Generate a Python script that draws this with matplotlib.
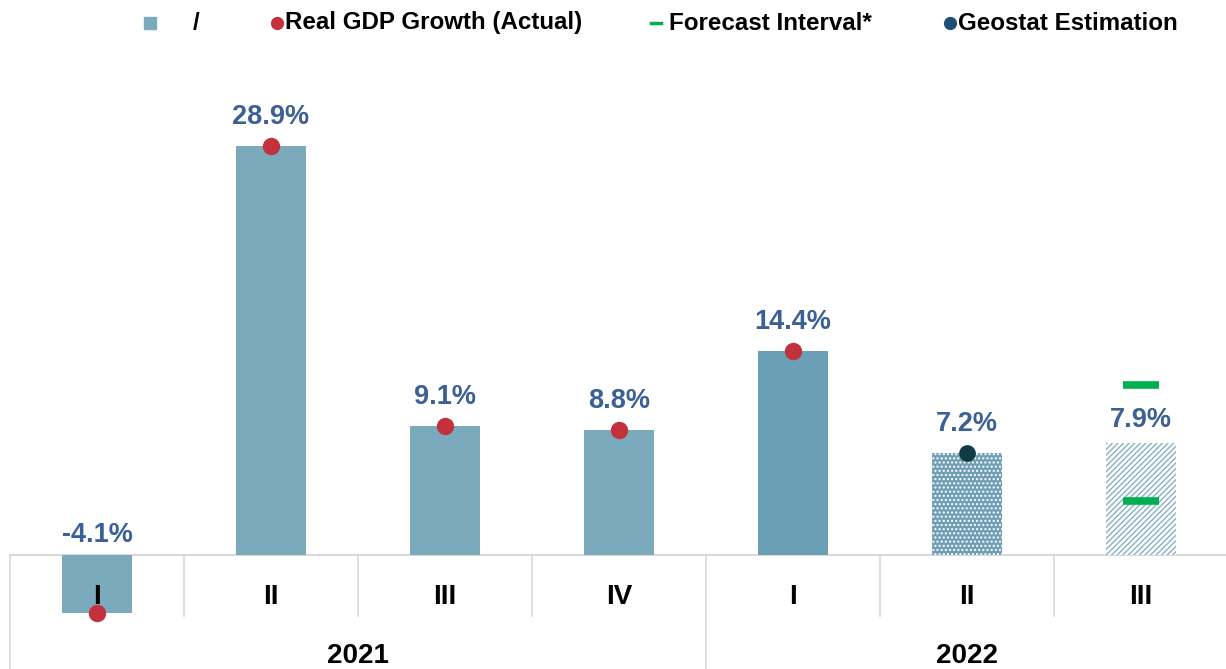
import matplotlib
matplotlib.use("Agg")
import matplotlib.pyplot as plt
from matplotlib.lines import Line2D
from matplotlib import font_manager

quarters = ["I", "II", "III", "IV", "I", "II", "III"]
years = ["2021", "2022"]
year_spans = [(0, 3), (4, 6)]
values = [-4.1, 28.9, 9.1, 8.8, 14.4, 7.2, 7.9]
actual = [-4.1, 28.9, 9.1, 8.8, 14.4, None, None]
geostat = [None, None, None, None, None, 7.2, None]
forecast_low = [None, None, None, None, None, None, 3.8]
forecast_high = [None, None, None, None, None, None, 12.0]
labels = ["-4.1%", "28.9%", "9.1%", "8.8%", "14.4%", "7.2%", "7.9%"]
legend_labels = ["/", "Real GDP Growth (Actual)", "Forecast Interval*", "Geostat Estimation"]

names = {f.name for f in font_manager.fontManager.ttflist}
narrow = "Liberation Sans Narrow" if "Liberation Sans Narrow" in names else (
    "DejaVu Sans Condensed" if "DejaVu Sans Condensed" in names else "Liberation Sans")

BAR = "#7BAABD"
BAR_DARK = "#6A9FB5"
RED = "#C3323C"
NAVY = "#0F3A46"
GREEN = "#00B050"
LBL = "#3A6096"
GRID = "#D9D9D9"

W, H = 1226, 669
fig = plt.figure(figsize=(W / 100, H / 100), dpi=100)
ax = fig.add_axes([10 / W, 0, 1218 / W, 1])
ppu = 14.15
ax.set_xlim(-0.5, 6.5)
ax.set_ylim(-(H - 555) / ppu, 555 / ppu)
ax.axis("off")

bw = 0.4
# solid bars
for i, v in enumerate(values):
    if i < 5:
        ax.bar(i, v, width=bw, color=BAR_DARK if i == 4 else BAR, zorder=3)
# estimation bar (dotted pattern)
ax.bar(5, values[5], width=bw, color="#6F9FB4", edgecolor="white", hatch="....",
       linewidth=0, zorder=3)
# forecast bar (diagonal lines)
ax.bar(6, values[6], width=bw, color="white", edgecolor="#86B0C4", hatch="//////",
       linewidth=0, zorder=3)

# zero line and separators
ax.axhline(0, color=GRID, lw=1.5, zorder=2)
ybot = ax.get_ylim()[0]
for b in [-0.5, 3.5, 6.5]:
    ax.plot([b, b], [0, ybot], color=GRID, lw=1.2, zorder=1, clip_on=False)
for b in [0.5, 1.5, 2.5, 4.5, 5.5]:
    ax.plot([b, b], [0, -4.3], color=GRID, lw=1.2, zorder=1)

# dots
for i, v in enumerate(actual):
    if v is not None:
        ax.plot(i, v, "o", color=RED, ms=11.5, zorder=5)
for i, v in enumerate(geostat):
    if v is not None:
        ax.plot(i, v, "o", color=NAVY, ms=11, zorder=5)
for i, (lo, hi) in enumerate(zip(forecast_low, forecast_high)):
    if lo is not None:
        ax.plot([i - 0.103, i + 0.103], [lo, lo], color=GREEN, lw=5.5, solid_capstyle="butt", zorder=5)
        ax.plot([i - 0.103, i + 0.103], [hi, hi], color=GREEN, lw=5.5, solid_capstyle="butt", zorder=5)

# value labels
for i, (v, t) in enumerate(zip(values, labels)):
    off = 23 if i == 6 else 29
    if v < 0:
        off = 20
    ax.annotate(t, (i, max(v, 0)), xytext=(0, off), textcoords="offset pixels",
                ha="center", va="center", fontsize=19.5, fontweight="bold",
                color=LBL, family="Liberation Sans", zorder=6)

# category labels
for i, q in enumerate(quarters):
    ax.text(i, -42 / ppu, q, ha="center", va="center", fontsize=20,
            fontweight="bold", family=narrow, color="black", zorder=6)
for y, (a, b) in zip(years, year_spans):
    ax.text((a + b) / 2, -101 / ppu, y, ha="center", va="center", fontsize=20,
            fontweight="bold", family=narrow, color="black", zorder=6)

# legend (manual)
ly = 1 - 23 / H
def px(xp):
    return xp / W
fs = 17.4
fig.add_artist(Line2D([px(150)], [ly], marker="s", color=BAR, ms=8, ls="none"))
fig.text(px(193), ly, legend_labels[0], ha="left", va="center", fontsize=fs,
         fontweight="bold", family="Liberation Sans")
fig.add_artist(Line2D([px(277)], [ly], marker="o", color=RED, ms=8.5, ls="none"))
fig.text(px(285), ly, legend_labels[1], ha="left", va="center", fontsize=fs,
         fontweight="bold", family="Liberation Sans")
fig.add_artist(Line2D([px(651), px(661)], [ly, ly], color=GREEN, lw=2.5))
fig.text(px(669), ly, legend_labels[2], ha="left", va="center", fontsize=fs,
         fontweight="bold", family="Liberation Sans")
fig.add_artist(Line2D([px(950)], [ly], marker="o", color="#1F4E79", ms=8.5, ls="none"))
fig.text(px(958), ly, legend_labels[3], ha="left", va="center", fontsize=fs,
         fontweight="bold", family="Liberation Sans")

fig.savefig("out.png", dpi=100)
